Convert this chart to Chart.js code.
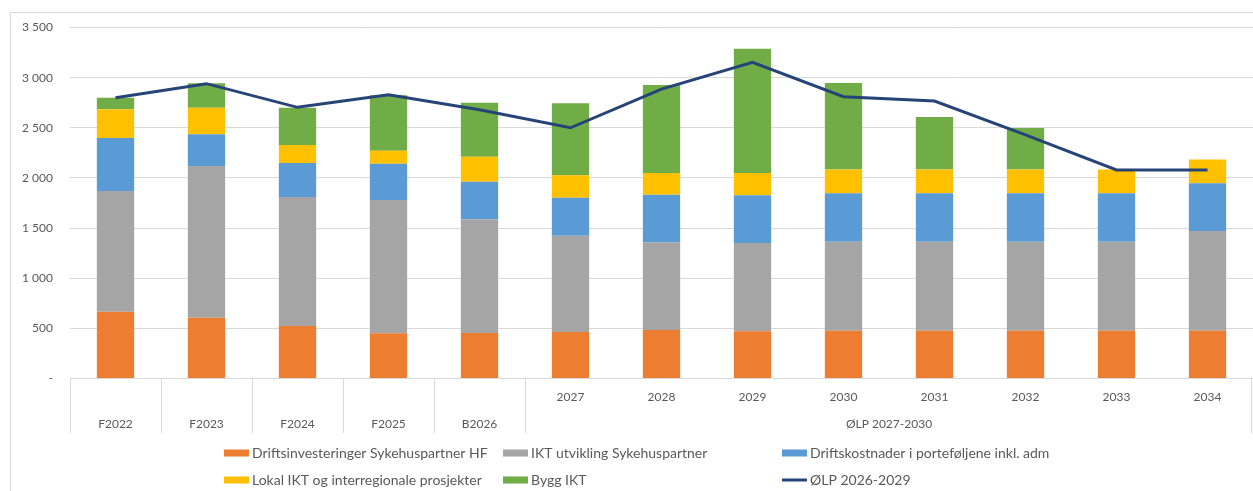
<!DOCTYPE html>
<html>
<head>
<meta charset="utf-8">
<script src="https://cdn.jsdelivr.net/npm/chart.js@4/dist/chart.umd.min.js"></script>
<style>
  html, body { margin: 0; padding: 0; background: #fff; }
  #wrap { position: relative; width: 1253px; height: 491px; }
</style>
</head>
<body>
<div id="wrap"><canvas id="c" width="1253" height="491"></canvas></div>
<script>
// ---- data ----
const innerLabels = ['', '', '', '', '', '2027', '2028', '2029', '2030', '2031', '2032', '2033', '2034'];
const groupLabels = ['F2022', 'F2023', 'F2024', 'F2025', 'B2026', 'ØLP 2027-2030'];
const groupSpans  = [1, 1, 1, 1, 1, 8];

const driftsinvesteringer = [666, 606, 523, 450, 454, 464, 484, 472, 475, 477, 477, 477, 477];
const iktUtvikling        = [1204, 1513, 1287, 1330, 1133, 960, 872, 880, 889, 887, 887, 887, 993];
const driftskostnader     = [528, 316, 339, 362, 375, 379, 477, 475, 482, 482, 482, 482, 476];
const lokalIkt            = [286, 265, 179, 129, 249, 223, 216, 223, 239, 239, 239, 239, 239];
const byggIkt             = [116, 243, 372, 553, 539, 718, 877, 1239, 861, 522, 412, 0, 0];
const olp2026_2029        = [2800, 2940, 2704, 2830, 2680, 2500, 2885, 3152, 2810, 2767, 2430, 2079, 2079];

const seriesNames = [
  'Driftsinvesteringer Sykehuspartner HF',
  'IKT utvikling Sykehuspartner',
  'Driftskostnader i porteføljene inkl. adm',
  'Lokal IKT og interregionale prosjekter',
  'Bygg IKT',
  'ØLP 2026-2029'
];
const yTicks = [0, 500, 1000, 1500, 2000, 2500, 3000, 3500];

const colors = ['#ED7D31', '#A5A5A5', '#5B9BD5', '#FFC000', '#70AD47', '#264478'];
const FONT = 'Lato, "Noto Sans", sans-serif';
const TXT = '#595959';
const GRID = '#d9d9d9';

function fmt(v) {
  if (v === 0) return '-';
  const s = String(v);
  return s.length > 3 ? s.slice(0, s.length - 3) + ' ' + s.slice(-3) : s;
}

const decorPlugin = {
  id: 'decor',
  beforeDraw(chart) {
    const ctx = chart.ctx;
    ctx.save();
    ctx.fillStyle = '#fff';
    ctx.fillRect(0, 0, chart.width, chart.height);
    ctx.restore();
  },
  afterDraw(chart) {
    const ctx = chart.ctx;
    const x = chart.scales.x;
    const area = chart.chartArea;
    const n = innerLabels.length;
    const catW = (area.right - area.left) / n;
    ctx.save();
    // outer border
    ctx.strokeStyle = GRID;
    ctx.lineWidth = 1;
    ctx.strokeRect(10.5, 12.5, 1260, 500);
    // dividers
    let cum = 0;
    const bounds = [0];
    groupSpans.forEach(s => { cum += s; bounds.push(cum); });
    ctx.beginPath();
    bounds.forEach(b => {
      let px = Math.round(area.left + b * catW) + 0.5;
      if (px > area.right - 1) px = area.right - 1.5;
      ctx.moveTo(px, area.bottom);
      ctx.lineTo(px, 433);
    });
    ctx.stroke();
    // inner labels
    ctx.fillStyle = TXT;
    ctx.font = '12px ' + FONT;
    ctx.textAlign = 'center';
    ctx.textBaseline = 'middle';
    innerLabels.forEach((l, i) => {
      if (l) ctx.fillText(l, x.getPixelForValue(i), 397);
    });
    // group labels
    cum = 0;
    groupLabels.forEach((g, i) => {
      const from = cum, to = cum + groupSpans[i];
      cum = to;
      const cx = (x.getPixelForValue(from) + x.getPixelForValue(to - 1)) / 2;
      ctx.fillText(g, cx, 424);
    });
    // legend
    const cols = [224, 503, 782];
    const rows = [453, 480];
    ctx.font = '14px ' + FONT;
    ctx.textAlign = 'left';
    seriesNames.forEach((name, i) => {
      const cx = cols[i % 3], cy = rows[Math.floor(i / 3)];
      if (i === 5) {
        ctx.strokeStyle = colors[i];
        ctx.lineWidth = 3;
        ctx.beginPath();
        ctx.moveTo(cx, cy);
        ctx.lineTo(cx + 25, cy);
        ctx.stroke();
      } else {
        ctx.fillStyle = colors[i];
        ctx.fillRect(cx, cy - 3.5, 25, 7);
      }
      ctx.fillStyle = TXT;
      ctx.fillText(name, cx + 28, cy);
    });
    ctx.restore();
  }
};

const barSeries = [driftsinvesteringer, iktUtvikling, driftskostnader, lokalIkt, byggIkt];
const datasets = barSeries.map((d, i) => ({
  type: 'bar',
  label: seriesNames[i],
  data: d,
  backgroundColor: colors[i],
  borderWidth: 0,
  stack: 'bars',
  order: 1,
  categoryPercentage: 1,
  barPercentage: 0.41
}));
datasets.push({
  type: 'line',
  label: seriesNames[5],
  data: olp2026_2029,
  borderColor: colors[5],
  backgroundColor: colors[5],
  borderWidth: 3,
  pointRadius: 0,
  tension: 0,
  stack: 'line',
  order: 0
});

new Chart(document.getElementById('c'), {
  data: { labels: innerLabels.map((l, i) => i), datasets },
  options: {
    responsive: false,
    animation: false,
    layout: { padding: { left: 0, right: 0, top: 27.5, bottom: 112.5 } },
    plugins: { legend: { display: false }, tooltip: { enabled: false } },
    scales: {
      x: {
        stacked: true,
        display: false,
        offset: true
      },
      y: {
        stacked: true,
        min: 0,
        max: 3500,
        afterBuildTicks(scale) { scale.ticks = yTicks.map(v => ({ value: v })); },
        afterFit(scale) { scale.width = 70; },
        border: { display: false },
        grid: { color: GRID, lineWidth: 1, drawTicks: false },
        ticks: {
          padding: 17,
          color: TXT,
          font: { family: FONT, size: 12 },
          callback: (v) => fmt(v)
        }
      }
    }
  },
  plugins: [decorPlugin]
});
</script>
</body>
</html>
